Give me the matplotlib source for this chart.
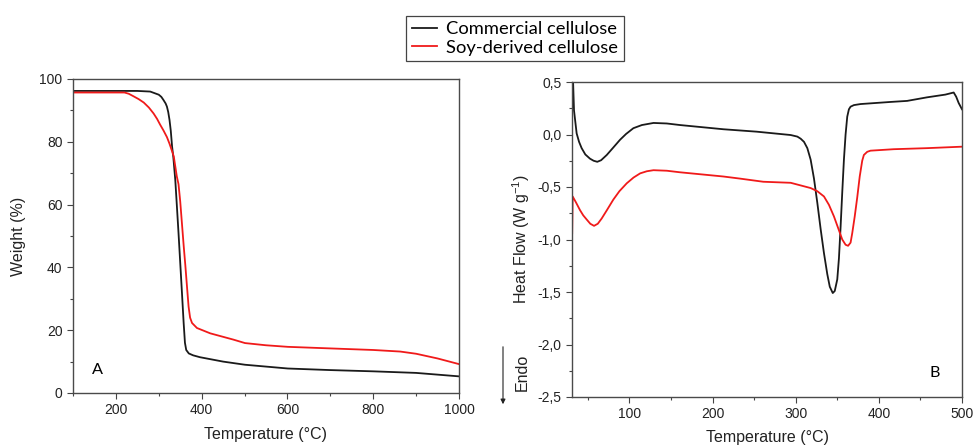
import matplotlib
matplotlib.use("Agg")
import matplotlib.pyplot as plt
from matplotlib.ticker import MultipleLocator, FuncFormatter
from matplotlib.patches import FancyArrowPatch

# ---- TGA data (panel A) ----
tga_T_com = [100, 250, 280, 300, 306, 311, 316, 319, 322, 325, 328, 331, 334, 338.5, 342, 346, 350, 354, 358, 361, 364, 370, 380, 396, 450, 501, 601, 700, 800, 900, 1000]
tga_W_com = [96.2, 96.2, 96.0, 95.0, 94.3, 93.3, 92.2, 91.2, 89.5, 87.0, 83.5, 78.5, 75.0, 67.8, 60.0, 51.0, 41.5, 32.0, 22.3, 16.0, 13.7, 12.6, 12.0, 11.4, 10.0, 9.0, 7.8, 7.3, 6.9, 6.4, 5.3]
tga_T_soy = [100, 220, 230, 241, 253, 265, 277, 288, 296, 303, 311, 319, 325, 331, 335, 342, 346, 350, 354, 358, 362, 366, 369.5, 373, 377.5, 389, 420, 474, 501, 550, 601, 700, 800, 863, 900, 950, 1000]
tga_W_soy = [95.7, 95.7, 95.3, 94.5, 93.6, 92.5, 90.9, 89.0, 87.3, 85.5, 83.6, 81.5, 79.4, 77.0, 75.3, 69.0, 66.5, 61.0, 54.0, 47.0, 40.5, 33.5, 27.5, 24.0, 22.3, 20.7, 19.0, 17.0, 15.9, 15.2, 14.7, 14.2, 13.7, 13.2, 12.5, 11.0, 9.2]

# ---- DSC data (panel B) ----
dsc_T_com = [31.5, 33.4, 36.6, 39.5, 42.6, 47, 52.6, 57, 61.4, 66, 72.8, 80, 88.8, 96, 104.8, 115, 129, 145, 161, 213, 253, 294, 302, 306, 310, 314, 318, 322, 326, 330, 334, 338, 341, 344.6, 347, 350, 352, 354, 356, 358, 360, 362, 364, 366, 370, 378, 414, 434, 458, 480, 490, 493, 496, 500]
dsc_H_com = [0.70, 0.23, 0.01, -0.07, -0.13, -0.19, -0.23, -0.25, -0.26, -0.245, -0.195, -0.13, -0.05, 0.005, 0.06, 0.09, 0.11, 0.105, 0.09, 0.05, 0.027, -0.005, -0.02, -0.04, -0.07, -0.13, -0.24, -0.42, -0.65, -0.90, -1.13, -1.33, -1.45, -1.51, -1.49, -1.38, -1.18, -0.88, -0.55, -0.24, 0.0, 0.17, 0.24, 0.265, 0.28, 0.29, 0.31, 0.32, 0.354, 0.38, 0.40, 0.36, 0.30, 0.24]
dsc_T_soy = [31.2, 31.8, 36, 40.6, 44.5, 48.7, 53, 57.5, 62, 66.7, 73, 80.7, 88, 96.8, 105, 113, 121, 129, 145, 161, 213, 233, 261, 294, 318, 326, 334, 340, 346, 351, 356, 360, 363, 366, 368, 371, 374, 377, 380, 382, 386, 390, 418, 458, 500]
dsc_H_soy = [-0.94, -0.59, -0.65, -0.72, -0.77, -0.81, -0.85, -0.87, -0.85, -0.80, -0.72, -0.62, -0.54, -0.465, -0.41, -0.37, -0.35, -0.34, -0.345, -0.36, -0.40, -0.42, -0.45, -0.46, -0.51, -0.54, -0.59, -0.67, -0.78, -0.89, -1.00, -1.05, -1.06, -1.03, -0.94, -0.78, -0.60, -0.40, -0.25, -0.195, -0.165, -0.154, -0.14, -0.13, -0.116]

labels = ["Commercial cellulose", "Soy-derived cellulose"]
c_black = "#1a1a1a"
c_red = "#f01a1a"

plt.rcParams['font.family'] = ['Liberation Sans', 'DejaVu Sans']
plt.rcParams['mathtext.fontset'] = 'custom'
plt.rcParams['mathtext.rm'] = 'Liberation Sans'
plt.rcParams['mathtext.it'] = 'Liberation Sans:italic'
plt.rcParams['mathtext.bf'] = 'Liberation Sans:bold'

fig = plt.figure(figsize=(9.74, 4.47), dpi=100)
W, H = 974, 447

def ax_rect(l, t, r, b):
    return [l / W, 1 - b / H, (r - l) / W, (b - t) / H]

axA = fig.add_axes(ax_rect(73, 79, 459, 393))
axB = fig.add_axes(ax_rect(572, 82, 962, 397))

text_col = "#222222"
for ax in (axA, axB):
    for s in ax.spines.values():
        s.set_color("#4a4a4a")
        s.set_linewidth(1.0)
    ax.tick_params(which='both', direction='out', colors="#444444", labelcolor=text_col, labelsize=10, width=0.8)
    ax.tick_params(which='major', length=4)
    ax.tick_params(which='minor', length=2.5)

# Panel A
lA1, = axA.plot(tga_T_com, tga_W_com, color=c_black, lw=1.3)
lA2, = axA.plot(tga_T_soy, tga_W_soy, color=c_red, lw=1.3)
axA.set_xlim(100, 1000)
axA.set_ylim(0, 100)
axA.xaxis.set_major_locator(MultipleLocator(200))
axA.xaxis.set_minor_locator(MultipleLocator(100))
axA.yaxis.set_major_locator(MultipleLocator(20))
axA.yaxis.set_minor_locator(MultipleLocator(10))
axA.set_xlabel("Temperature (°C)", fontsize=11.5, labelpad=7, color=text_col)
axA.set_ylabel("Weight (%)", fontsize=11.5, labelpad=10, color=text_col)
axA.text(0.05, 0.073, "A", transform=axA.transAxes, fontsize=11.7, family=['Lato', 'DejaVu Sans'], ha='left', va='center')

# Panel B
axB.plot(dsc_T_com, dsc_H_com, color=c_black, lw=1.3)
axB.plot(dsc_T_soy, dsc_H_soy, color=c_red, lw=1.3)
axB.set_xlim(31, 500)
axB.set_ylim(-2.5, 0.5)
axB.xaxis.set_major_locator(MultipleLocator(100))
axB.xaxis.set_minor_locator(MultipleLocator(50))
axB.yaxis.set_major_locator(MultipleLocator(0.5))
axB.yaxis.set_minor_locator(MultipleLocator(0.25))
axB.yaxis.set_major_formatter(FuncFormatter(lambda v, p: ("%.1f" % v).replace(".", ",").replace("-0,0", "0,0")))
axB.set_xlabel("Temperature (°C)", fontsize=11.5, labelpad=6, color=text_col)
axB.set_ylabel("Heat Flow (W g$^{-1}$)", fontsize=11.5, labelpad=4, color=text_col)
axB.text(0.93, 0.075, "B", transform=axB.transAxes, fontsize=11.7, family=['Lato', 'DejaVu Sans'], ha='center', va='center')

# Endo arrow
fig.add_artist(FancyArrowPatch((503 / W, 1 - 344 / H), (503 / W, 1 - 407 / H),
                               transform=fig.transFigure, arrowstyle='-|>', mutation_scale=7,
                               color="#222222", lw=0.8))
fig.text(522 / W, 1 - 372 / H, "Endo", rotation=90, ha='center', va='center', fontsize=11.5, color=text_col)

# Legend
leg = fig.legend([lA1, lA2], labels, loc='center', bbox_to_anchor=(515 / W, 1 - 38.5 / H),
                 frameon=True, fancybox=False, edgecolor="#444444", framealpha=1,
                 prop={'family': ['Lato', 'DejaVu Sans'], 'size': 13.2},
                 handlelength=1.4, handletextpad=0.5, borderpad=0.3, labelspacing=0.12,
                 borderaxespad=0)
leg.get_frame().set_linewidth(0.9)

fig.savefig("out.png", dpi=100)
